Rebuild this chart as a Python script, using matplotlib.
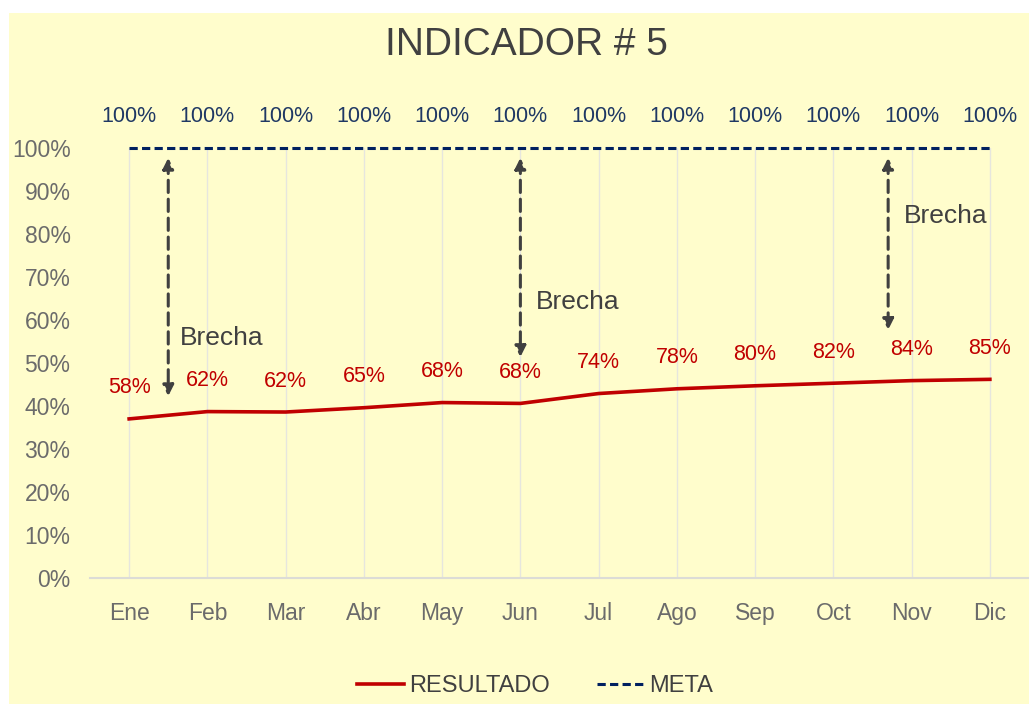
import matplotlib
matplotlib.use("Agg")
from matplotlib import pyplot as plt
from matplotlib.patches import Rectangle

plt.rcParams['font.family'] = ['Liberation Sans', 'DejaVu Sans']

meses = ['Ene', 'Feb', 'Mar', 'Abr', 'May', 'Jun', 'Jul', 'Ago', 'Sep', 'Oct', 'Nov', 'Dic']
# valores que dibuja la linea
resultado = [0.370, 0.387, 0.386, 0.396, 0.408, 0.406, 0.429, 0.440, 0.447, 0.453, 0.459, 0.462]
# etiquetas que muestra el grafico
etiq_resultado = ['58%', '62%', '62%', '65%', '68%', '68%', '74%', '78%', '80%', '82%', '84%', '85%']
meta = [1.0] * 12
etiq_meta = ['100%'] * 12

# flechas "Brecha": x, y abajo, y arriba, texto x, texto y
brechas = [(0.5, 0.423, 0.977, 0.65, 0.558),
           (5.0, 0.514, 0.977, 5.2, 0.642),
           (9.7, 0.577, 0.977, 9.9, 0.842)]

amarillo = '#FFFDCC'
rojo = '#C00000'
azul = '#002060'
gris = '#6b6b6b'
oscuro = '#404040'

fig = plt.figure(figsize=(10.29, 7.04), dpi=100, facecolor='white')
fig.patches.append(Rectangle((9/1029, 0), 1 - 9/1029, 1 - 13/704, transform=fig.transFigure,
                             facecolor=amarillo, edgecolor='none', zorder=-5))

ax = fig.add_axes([90/1029, 126/704, 939/1029, 430/704])
ax.set_facecolor('none')

x = list(range(len(meses)))
ax.plot(x, resultado, color=rojo, lw=2.6, label='RESULTADO', zorder=3)
ax.plot(x, meta, color=azul, lw=2.2, ls=(0, (2.7, 1.4)), label='META', zorder=3, clip_on=False)

for i in x:
    ax.annotate(etiq_resultado[i], (i, resultado[i]), xytext=(0, 31), textcoords='offset pixels',
                ha='center', va='center', color=rojo, fontsize=15.5)
    ax.annotate(etiq_meta[i], (i, meta[i]), xytext=(0, 31), textcoords='offset pixels',
                ha='center', va='center', color='#1F3864', fontsize=15.5, annotation_clip=False)

for bx, y0, y1, tx, ty in brechas:
    ax.annotate('', xy=(bx, y0), xytext=(bx, y1), annotation_clip=False,
                arrowprops=dict(arrowstyle='<|-|>', color=oscuro, lw=2.2, ls=(0, (4, 2.2)),
                                mutation_scale=16, shrinkA=0, shrinkB=0))
    ax.text(tx, ty, 'Brecha', color=oscuro, fontsize=19, ha='left', va='center')

ax.set_xlim(-0.5, 11.5)
ax.set_ylim(0, 1.0)
ax.set_xticks(x)
ax.set_xticklabels(meses)
ax.set_yticks([i / 10 for i in range(11)])
ax.set_yticklabels([f'{i * 10}%' for i in range(11)])
ax.tick_params(axis='both', length=0, colors=gris, labelsize=16.5)
ax.tick_params(axis='y', pad=14)
ax.tick_params(axis='x', pad=17)
ax.grid(axis='x', color='#e6e6de', lw=1)
ax.set_axisbelow(True)
for s in ['top', 'right', 'left']:
    ax.spines[s].set_visible(False)
ax.spines['bottom'].set_color('#dcdcd6')
ax.spines['bottom'].set_linewidth(1.5)

fig.text(0.512, 1 - 45/704, 'INDICADOR # 5', ha='center', va='center', fontsize=28, color=oscuro)

fig.legend(loc='center', bbox_to_anchor=(0.52, 18/704), ncol=2, frameon=False,
           fontsize=17, handlelength=2.0, handletextpad=0.2, columnspacing=2.0,
           labelcolor=oscuro)

plt.savefig('out.png', dpi=100, facecolor=fig.get_facecolor())
